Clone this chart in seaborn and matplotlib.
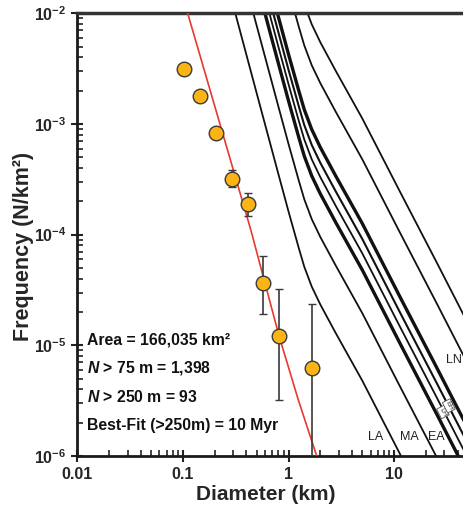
import numpy as np
import pandas as pd
import matplotlib
matplotlib.use("Agg")
import matplotlib.pyplot as plt
import matplotlib.ticker as mticker
import seaborn as sns

# ---------------- data ----------------
# observed crater size-frequency points (cumulative)
diam_obs = [0.102, 0.145, 0.206, 0.29, 0.41, 0.577, 0.82, 1.66]
freq_obs = [3.14e-3, 1.79e-3, 8.3e-4, 3.18e-4, 1.88e-4, 3.68e-5, 1.22e-5, 6.2e-6]
freq_hi = [3.14e-3, 1.79e-3, 8.3e-4, 3.8e-4, 2.37e-4, 6.45e-5, 3.2e-5, 2.37e-5]
freq_lo = [3.14e-3, 1.79e-3, 8.3e-4, 2.7e-4, 1.46e-4, 1.9e-5, 3.2e-6, 5.0e-7]

# best-fit (10 Myr) isochron, red
fit_diam = [0.111, 0.44, 0.813, 1.24, 1.85]
fit_freq = [1.0e-2, 1.10e-4, 1.22e-5, 3.2e-6, 1.0e-6]

# epoch-boundary isochrons (black), shared diameter grid
iso_diam = [0.2, 0.3, 0.5, 0.8, 1.0, 1.25, 1.41, 1.66, 2.0, 2.8, 5.0, 11.5, 25.0, 50.0]
iso_LA = [4.94e-2, 1.17e-2, 1.89e-3, 3.56e-4, 1.62e-4, 7.59e-5, 5.13e-5, 3.39e-5, 2.34e-5, 1.29e-5, 4.79e-6, 1.02e-6, 2.45e-7, 6.76e-8]
iso_MA = [0.201, 4.77e-2, 7.70e-3, 1.45e-3, 6.60e-4, 3.09e-4, 2.09e-4, 1.38e-4, 9.53e-5, 5.26e-5, 1.95e-5, 4.16e-6, 9.98e-7, 2.75e-7]
iso_EA = [0.494, 0.117, 1.89e-2, 3.56e-3, 1.62e-3, 7.59e-4, 5.13e-4, 3.39e-4, 2.34e-4, 1.29e-4, 4.79e-5, 1.02e-5, 2.45e-6, 6.76e-7]
iso_LH = [0.698, 0.165, 2.67e-2, 5.03e-3, 2.29e-3, 1.07e-3, 7.25e-4, 4.79e-4, 3.31e-4, 1.82e-4, 6.77e-5, 1.44e-5, 3.46e-6, 9.55e-7]
iso_EH = [0.941, 0.223, 3.60e-2, 6.78e-3, 3.09e-3, 1.45e-3, 9.78e-4, 6.46e-4, 4.46e-4, 2.46e-4, 9.13e-5, 1.94e-5, 4.67e-6, 1.29e-6]
iso_LN = [1.30, 0.308, 4.97e-2, 9.36e-3, 4.26e-3, 2.00e-3, 1.35e-3, 8.92e-4, 6.15e-4, 3.39e-4, 1.26e-4, 2.68e-5, 6.44e-6, 1.78e-6]
iso_MN = [4.94, 1.17, 0.189, 3.56e-2, 1.62e-2, 7.59e-3, 5.13e-3, 3.39e-3, 2.34e-3, 1.29e-3, 4.79e-4, 1.02e-4, 2.45e-5, 6.76e-6]
iso_EN = [11.6, 2.74, 0.443, 8.34e-2, 3.80e-2, 1.78e-2, 1.20e-2, 7.95e-3, 5.48e-3, 3.02e-3, 1.12e-3, 2.39e-4, 5.74e-5, 1.58e-5]

iso_lines = {"LA": iso_LA, "MA": iso_MA, "EA": iso_EA, "LH": iso_LH,
             "EH": iso_EH, "LN": iso_LN, "MN": iso_MN, "EN": iso_EN}
iso_width = {"LA": 1.3, "MA": 1.3, "EA": 2.4, "LH": 1.3,
             "EH": 1.5, "LN": 2.4, "MN": 1.3, "EN": 1.3}

x_ticks = [0.01, 0.1, 1, 10]
x_ticklabels = ["0.01", "0.1", "1", "10"]
y_ticks = [1e-6, 1e-5, 1e-4, 1e-3, 1e-2]
y_ticklabels = ["-6", "-5", "-4", "-3", "-2"]

stats_lines = ["Area = 166,035 km²",
               r"$\it{N}$ > 75 m = 1,398",
               r"$\it{N}$ > 250 m = 93",
               "Best-Fit (>250m) = 10 Myr"]

# ---------------- styling ----------------
sns.set_style("ticks")
plt.rcParams["font.family"] = ["Liberation Sans", "DejaVu Sans"]
plt.rcParams["font.weight"] = "bold"
plt.rcParams["mathtext.fontset"] = "custom"
plt.rcParams["mathtext.rm"] = "Liberation Sans:bold"
plt.rcParams["mathtext.bf"] = "Liberation Sans:bold"
plt.rcParams["mathtext.it"] = "Liberation Sans:italic:bold"

fig = plt.figure(figsize=(4.64, 5.09), dpi=100)
ax = fig.add_axes([0.1666, 0.1041, 0.8334, 0.8698])
ax.set_xscale("log")
ax.set_yscale("log")

# isochrons
for name, vals in iso_lines.items():
    df = pd.DataFrame({"D": iso_diam, "N": vals})
    sns.lineplot(data=df, x="D", y="N", ax=ax, color="#111111",
                 lw=iso_width[name], estimator=None, sort=False, zorder=2)

# red best-fit line
df_fit = pd.DataFrame({"D": fit_diam, "N": fit_freq})
sns.lineplot(data=df_fit, x="D", y="N", ax=ax, color="#e8392f", lw=1.2,
             estimator=None, sort=False, zorder=3)

# error bars
yerr = [np.array(freq_obs) - np.array(freq_lo), np.array(freq_hi) - np.array(freq_obs)]
ax.errorbar(diam_obs, freq_obs, yerr=yerr, fmt="none", ecolor="#3a3a3a",
            elinewidth=1.2, capsize=3, capthick=1.0, zorder=4)

# observed points
df_obs = pd.DataFrame({"D": diam_obs, "N": freq_obs})
sns.scatterplot(data=df_obs, x="D", y="N", ax=ax, s=110, color="#fbb416",
                edgecolor="#3a3a3a", linewidth=1.0, zorder=5)

ax.set_xlim(0.01, 45.9)
ax.set_ylim(1e-6, 1e-2)

# ticks
ax.xaxis.set_major_locator(mticker.FixedLocator(x_ticks))
ax.xaxis.set_major_formatter(mticker.FixedFormatter(x_ticklabels))
ax.xaxis.set_minor_locator(mticker.LogLocator(base=10, subs=np.arange(2, 10)))
ax.xaxis.set_minor_formatter(mticker.NullFormatter())
ax.yaxis.set_major_locator(mticker.FixedLocator(y_ticks))
ax.yaxis.set_major_formatter(mticker.FixedFormatter(
    [r"$\mathbf{10^{%s}}$" % e for e in y_ticklabels]))
ax.yaxis.set_minor_locator(mticker.LogLocator(base=10, subs=np.arange(2, 10)))
ax.yaxis.set_minor_formatter(mticker.NullFormatter())

ax.tick_params(which="major", direction="inout", length=8, width=1.5,
               color="#222222", labelsize=11.5, pad=4)
ax.tick_params(which="minor", direction="in", length=4, width=1.2, color="#222222")
ax.tick_params(axis="both", which="both", top=False, right=False)
for lab in ax.get_xticklabels() + ax.get_yticklabels():
    lab.set_fontweight("bold")

for side in ["left", "bottom"]:
    ax.spines[side].set_linewidth(2.0)
    ax.spines[side].set_color("#1a1a1a")
ax.spines["top"].set_visible(True)
ax.spines["top"].set_linewidth(2.5)
ax.spines["top"].set_color("#333333")
ax.spines["right"].set_visible(False)

ax.set_xlabel("Diameter (km)", fontsize=15, fontweight="bold")
ax.xaxis.set_label_coords(0.488, -0.065)
ax.set_ylabel("Frequency (N/km²)", fontsize=15.5, fontweight="bold")
ax.yaxis.set_label_coords(-0.113, 0.474)

# stats text
for yy, txt in zip([0.262, 0.199, 0.134, 0.070], stats_lines):
    ax.text(0.025, yy, txt, transform=ax.transAxes, fontsize=11.3,
            fontweight="bold", ha="left", va="center", color="#111111")

# epoch labels
for lab, xx, yy in [("LA", 6.74, 1.49e-6), ("MA", 13.8, 1.49e-6),
                    ("EA", 24.9, 1.49e-6), ("LN", 36.5, 7.4e-6)]:
    ax.text(xx, yy, lab, fontsize=9, fontweight="normal", ha="center",
            va="center", color="#222222")
for lab, xx, yy in [("LH", 29.0, 2.5e-6), ("EH", 33.0, 2.84e-6)]:
    ax.text(xx, yy, lab, fontsize=5, fontweight="normal", ha="center",
            va="center", rotation=-63, rotation_mode="anchor", color="#333333",
            bbox=dict(boxstyle="square,pad=0.12", fc="white", ec="#555555", lw=0.6),
            zorder=6)

fig.savefig("out.png", dpi=100)
